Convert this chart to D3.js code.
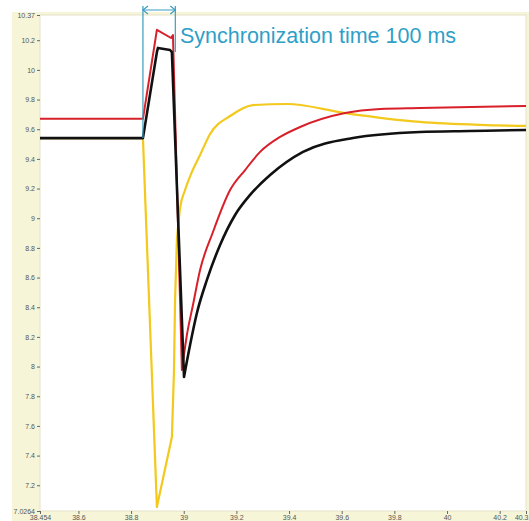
<!doctype html>
<head>
  <meta charset="utf-8">
  <title>Synchronization time</title>
  <script src="https://d3js.org/d3.v7.min.js"></script>
</head>
<style>
  body { margin: 0; background: #fff; }
  .line { fill: none; stroke-linejoin: round; }
  .tick text { font-family: "Liberation Sans", Arial, sans-serif; font-size: 7px; fill: #555; }
  .tick line { stroke: #666; }
</style>
<body>
<div id="vis-canvas"></div>
<script>

    // tick values
    var xTicks = [38.454, 38.6, 38.8, 39, 39.2, 39.4, 39.6, 39.8, 40, 40.2, 40.3];
    var yTicks = [10.37, 10.2, 10, 9.8, 9.6, 9.4, 9.2, 9, 8.8, 8.6, 8.4, 8.2, 8, 7.8, 7.6, 7.4, 7.2, 7.0264];

    // red series (spike is straight, recovery from the minimum on is smooth)
    var redT = [38.454, 38.845, 38.898, 38.952, 38.959, 38.993, 39.012, 39.035, 39.062, 39.111, 39.176, 39.233, 39.290, 39.366, 39.442, 39.613, 39.746, 39.897, 40.3];
    var redV = [9.67, 9.67, 10.27, 10.215, 10.235, 7.977, 8.213, 8.415, 8.651, 8.907, 9.19, 9.325, 9.447, 9.548, 9.615, 9.709, 9.736, 9.743, 9.757];
    var redSplit = 5;

    // black series
    var blackT = [38.454, 38.845, 38.898, 38.902, 38.948, 38.955, 39.001, 39.024, 39.050, 39.088, 39.138, 39.195, 39.252, 39.328, 39.453, 39.643, 39.897, 40.087, 40.3];
    var blackV = [9.54, 9.54, 10.12, 10.148, 10.134, 10.12, 7.93, 8.145, 8.361, 8.584, 8.82, 9.022, 9.157, 9.291, 9.447, 9.541, 9.581, 9.588, 9.595];
    var blackSplit = 6;

    // yellow series
    var yellowT = [38.454, 38.845, 38.898, 38.955, 38.963, 38.967, 38.974, 38.986, 39.005, 39.031, 39.062, 39.100, 39.176, 39.263, 39.392, 39.613, 39.897, 40.125, 40.3];
    var yellowV = [9.54, 9.54, 7.053, 7.525, 7.977, 8.449, 8.853, 9.069, 9.19, 9.312, 9.426, 9.568, 9.689, 9.763, 9.77, 9.709, 9.649, 9.629, 9.622];
    var yellowSplit = 6;

    // synchronization window
    var syncStart = 38.845, syncEnd = 38.968;
    var syncLabel = "Synchronization time 100 ms";

    var W = 529, H = 521;
    var plot = {left: 40, top: 15, right: 526, bottom: 511};

    var svg = d3.select("#vis-canvas").append("svg")
        .attr("width", W)
        .attr("height", H);

    // pale yellow frame + white plot area
    svg.append("rect").attr("x", 12).attr("y", 12).attr("width", W - 12).attr("height", H - 12)
        .attr("fill", "#f7f5d8");
    svg.append("rect").attr("x", plot.left).attr("y", plot.top)
        .attr("width", plot.right - plot.left).attr("height", plot.bottom - plot.top)
        .attr("fill", "#fff").attr("stroke", "#e4e2c8").attr("stroke-width", 1);

    var x = d3.scaleLinear().domain([38.454, 40.3]).range([plot.left, plot.right]);
    var y = d3.scaleLinear().domain([7.0264, 10.37]).range([plot.bottom, plot.top]);

    // axes
    var yAxis = svg.append("g")
        .attr("transform", "translate(" + plot.left + ",0)")
        .call(d3.axisLeft(y).tickValues(yTicks).tickSize(3).tickPadding(2).tickFormat(function(d) { return String(d); }));
    yAxis.select(".domain").remove();

    var xAxis = svg.append("g")
        .attr("transform", "translate(0," + plot.bottom + ")")
        .call(d3.axisBottom(x).tickValues(xTicks).tickSize(3).tickPadding(1).tickFormat(function(d) { return String(d); }));
    xAxis.select(".domain").remove();
    // last label would run off the edge
    xAxis.selectAll(".tick text").filter(function(d) { return d === 40.3; })
        .attr("text-anchor", "end").attr("dx", 2);

    // lines: straight part up to split index, smooth part after it
    function mkPath(ts, vs, split) {
      var pts = vs.map(function(v, i) { return [x(ts[i]), y(v)]; });
      var straight = d3.line().curve(d3.curveLinear)(pts.slice(0, split + 1));
      var smooth = d3.line().curve(d3.curveMonotoneX)(pts.slice(split));
      return straight + smooth.replace(/^M/, "L");
    }

    svg.append("path").attr("class", "line")
        .attr("d", mkPath(yellowT, yellowV, yellowSplit))
        .style("stroke", "#f2c91c").style("stroke-width", 2.2);

    svg.append("path").attr("class", "line")
        .attr("d", mkPath(redT, redV, redSplit))
        .style("stroke", "#d8202a").style("stroke-width", 2);

    svg.append("path").attr("class", "line")
        .attr("d", mkPath(blackT, blackV, blackSplit))
        .style("stroke", "#111").style("stroke-width", 2.6);

    // sync bracket
    var sync = "#3a9cc2";
    var bx0 = x(syncStart), bx1 = x(syncEnd), by = 10;
    svg.append("line").attr("x1", bx0).attr("x2", bx0).attr("y1", 6).attr("y2", y(9.54))
        .attr("stroke", sync).attr("stroke-width", 1.2);
    svg.append("line").attr("x1", bx1).attr("x2", bx1).attr("y1", 6).attr("y2", y(10.12))
        .attr("stroke", sync).attr("stroke-width", 1.2);
    svg.append("line").attr("x1", bx0).attr("x2", bx1).attr("y1", by).attr("y2", by)
        .attr("stroke", sync).attr("stroke-width", 1.2);
    svg.append("path")
        .attr("d", "M" + (bx0 + 5) + "," + (by - 4) + "L" + bx0 + "," + by + "L" + (bx0 + 5) + "," + (by + 4) +
                   "M" + (bx1 - 5) + "," + (by - 4) + "L" + bx1 + "," + by + "L" + (bx1 - 5) + "," + (by + 4))
        .attr("fill", "none").attr("stroke", sync).attr("stroke-width", 1.2);

    svg.append("text")
        .attr("x", 180).attr("y", 43)
        .style("font-family", "'Liberation Sans', Arial, sans-serif")
        .style("font-size", "21.5px")
        .style("fill", "#2f9fc8")
        .text(syncLabel);

</script>
</body>
